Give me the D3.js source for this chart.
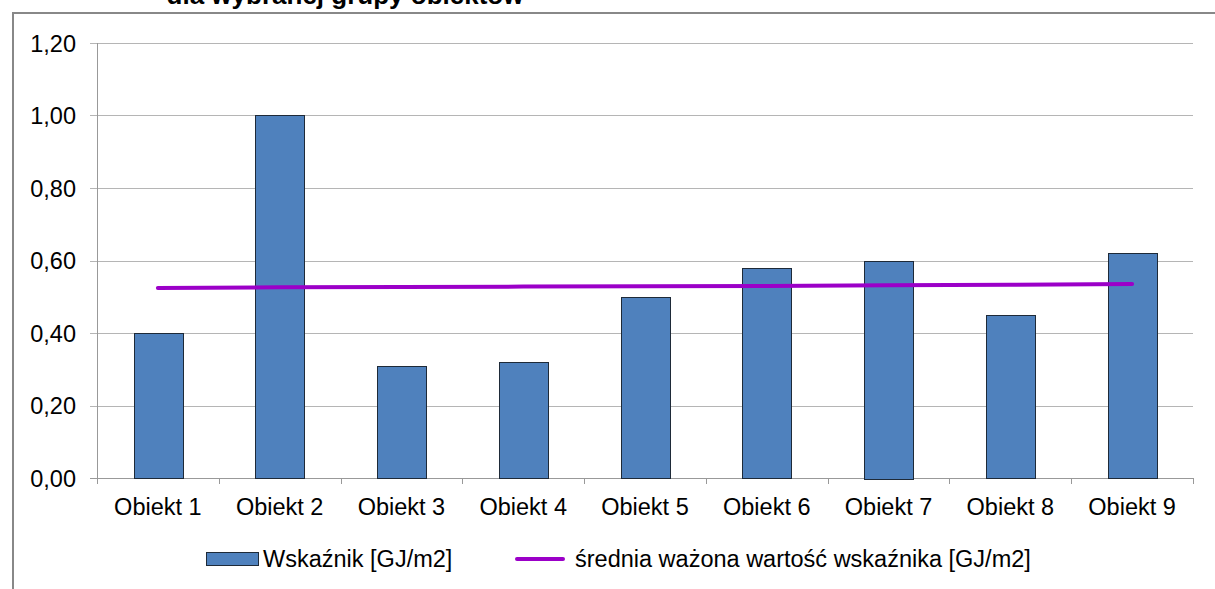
<!DOCTYPE html>
<html><head><meta charset="utf-8">
<script src="https://cdn.jsdelivr.net/npm/d3@7"></script>
<style>body{margin:0;background:#fff}svg{display:block}text{font-family:"Liberation Sans",Arial,sans-serif}</style>
</head><body>
<svg id="c" width="1215" height="589"></svg>
<script>
const categories = ["Obiekt 1","Obiekt 2","Obiekt 3","Obiekt 4","Obiekt 5","Obiekt 6","Obiekt 7","Obiekt 8","Obiekt 9"];
const indicator = [0.40,1.00,0.31,0.32,0.50,0.58,0.60,0.45,0.62];
const weightedAvg = [0.524,0.526,0.527,0.528,0.529,0.530,0.532,0.533,0.535];
const yTicks = [0,0.2,0.4,0.6,0.8,1.0,1.2];
const titleText = "dla wybranej grupy obiektów";
const legendLabels = ["Wskaźnik [GJ/m2]","średnia ważona wartość wskaźnika [GJ/m2]"];

const svg = d3.select("#c");
const L=97, R=1193, T=43, B=478;
const x = d3.scaleBand().domain(categories).range([L,R]).paddingInner(0.6).paddingOuter(0.3);
const xb = d3.scaleBand().domain(categories).range([L,R]);
const y = d3.scaleLinear().domain([0,1.2]).range([B,T]);
const fmt = d => d.toFixed(2).replace(".",",");
const FS = 23.5;

// frame
svg.append("line").attr("x1",12).attr("x2",1215).attr("y1",13).attr("y2",13).attr("stroke","#888").attr("stroke-width",2);
svg.append("line").attr("x1",13).attr("x2",13).attr("y1",12).attr("y2",589).attr("stroke","#888").attr("stroke-width",2);
// title (clipped at top, as in the reference)
svg.append("text").attr("x",345).attr("y",4).attr("text-anchor","middle").attr("font-size",26).attr("font-weight","bold").attr("fill","#000").text(titleText);

// grid
svg.append("g").selectAll("line").data(yTicks).join("line")
  .attr("x1",90).attr("x2",R).attr("y1",d=>Math.round(y(d))+0.5).attr("y2",d=>Math.round(y(d))+0.5)
  .attr("stroke",d=>d===0?"#999":"#b5b5b5").attr("stroke-width",1);
svg.append("g").selectAll("text").data(yTicks).join("text")
  .attr("x",76).attr("y",d=>y(d)+8.5).attr("text-anchor","end").attr("font-size",FS).attr("fill","#000").text(fmt);
// y axis
svg.append("line").attr("x1",L+0.5).attr("x2",L+0.5).attr("y1",T).attr("y2",B+5).attr("stroke","#999");
// x ticks
const bounds = categories.map(c=>xb(c)+xb.bandwidth()).concat([L]);
svg.append("g").selectAll("line").data(bounds).join("line")
  .attr("x1",d=>Math.round(d)+0.5).attr("x2",d=>Math.round(d)+0.5).attr("y1",B).attr("y2",B+6).attr("stroke","#999");
svg.append("g").selectAll("text").data(categories).join("text")
  .attr("x",d=>xb(d)+xb.bandwidth()/2).attr("y",B+37).attr("text-anchor","middle").attr("font-size",FS).attr("fill","#000").text(d=>d);

// bars
svg.append("g").selectAll("rect").data(indicator).join("rect")
  .attr("x",(d,i)=>Math.round(x(categories[i]))+0.5).attr("width",Math.round(x.bandwidth()))
  .attr("y",d=>Math.round(y(d))+0.5).attr("height",d=>Math.round(B-y(d)))
  .attr("fill","#4f81bd").attr("stroke","#1e2a38").attr("stroke-width",1);

// line
const line = d3.line().x((d,i)=>xb(categories[i])+xb.bandwidth()/2).y(d=>y(d));
svg.append("path").datum(weightedAvg).attr("d",line).attr("fill","none").attr("stroke","#9b00c8").attr("stroke-width",4).attr("stroke-linecap","round");

// legend
const lg = svg.append("g");
lg.append("rect").attr("x",206.5).attr("y",552.5).attr("width",52).attr("height",13).attr("fill","#4f81bd").attr("stroke","#1e2a38");
lg.append("text").attr("x",263).attr("y",567).attr("font-size",FS).attr("fill","#000").text(legendLabels[0]);
lg.append("line").attr("x1",517).attr("x2",563).attr("y1",559).attr("y2",559).attr("stroke","#9b00c8").attr("stroke-width",4).attr("stroke-linecap","round");
lg.append("text").attr("x",575).attr("y",567).attr("font-size",FS).attr("fill","#000").text(legendLabels[1]);
</script>
</body></html>
